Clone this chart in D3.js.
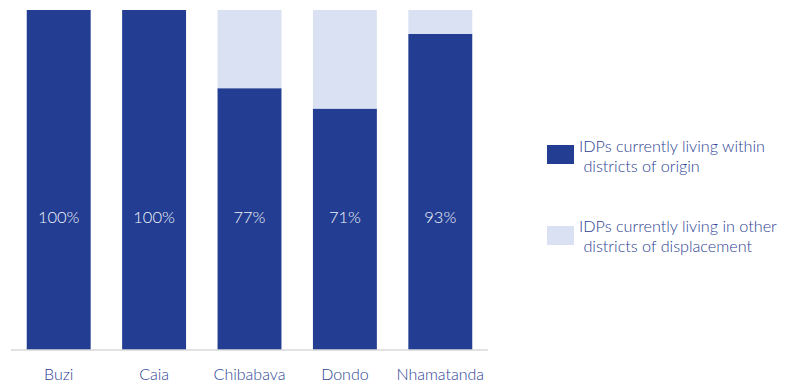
<!DOCTYPE html>
<html>
<head>
<meta charset="utf-8">
<script src="https://cdn.jsdelivr.net/npm/d3@7"></script>
<style>
  html, body { margin: 0; padding: 0; background: #fff; }
  svg text { font-family: "Gill Sans", "Gill Sans MT", Lato, "Open Sans", sans-serif; font-weight: 300; }
</style>
</head>
<body>
<svg id="chart" width="796" height="385"></svg>
<script>
// Districts and share of IDPs living within their district of origin (%)
const districts = ["Buzi", "Caia", "Chibabava", "Dondo", "Nhamatanda"];
const withinOrigin = [100, 100, 77, 71, 93];
const otherDistricts = [0, 0, 23, 29, 7];
const seriesNames = ["IDPs currently living within\n districts of origin",
                     "IDPs currently living in other\n districts of displacement"];
const colors = ["#223d92", "#d9e1f2"];
const textColor = "#2c3f94";

const svg = d3.select("#chart");
const plot = { left: 11, right: 488, top: 10, bottom: 350 };

const x = d3.scaleBand()
  .domain(districts)
  .range([plot.left, plot.right])
  .paddingInner(0.33)
  .paddingOuter(0.165);

const y = d3.scaleLinear()
  .domain([0, 100])
  .range([plot.bottom, plot.top]);

const rows = districts.map((d, i) => ({ district: d, within: withinOrigin[i], other: otherDistricts[i] }));
const stack = d3.stack().keys(["within", "other"])(rows);

svg.append("g")
  .selectAll("g")
  .data(stack)
  .join("g")
  .attr("fill", (d, i) => colors[i])
  .selectAll("rect")
  .data(d => d)
  .join("rect")
  .attr("x", d => x(d.data.district))
  .attr("y", d => y(d[1]))
  .attr("width", x.bandwidth())
  .attr("height", d => y(d[0]) - y(d[1]));

// baseline axis
const axis = svg.append("g")
  .attr("transform", `translate(0,${plot.bottom})`)
  .call(d3.axisBottom(x).tickSize(0).tickPadding(19));
axis.select(".domain").attr("stroke", "#d9d9d9").attr("stroke-width", 1.5)
  .attr("d", `M${plot.left},0H${plot.right}`);
axis.selectAll("text")
  .attr("fill", textColor)
  .attr("font-size", 16)
  .style("font-family", "\"Gill Sans\", Lato, sans-serif")
  .style("font-weight", 300);

// value labels inside the bars
svg.append("g")
  .selectAll("text")
  .data(rows)
  .join("text")
  .attr("x", d => x(d.district) + x.bandwidth() / 2)
  .attr("y", 223)
  .attr("text-anchor", "middle")
  .attr("fill", "#f2f4fa")
  .attr("font-size", 16.5)
  .text(d => d.within + "%");

// legend
const legend = svg.append("g");
const legendItems = [
  { color: colors[0], boxY: 145, textY: 152 },
  { color: colors[1], boxY: 226, textY: 232 }
];
legendItems.forEach((item, i) => {
  legend.append("rect")
    .attr("x", 547).attr("y", item.boxY)
    .attr("width", 27).attr("height", 19)
    .attr("fill", item.color);
  const lines = seriesNames[i].split("\n");
  lines.forEach((line, j) => {
    legend.append("text")
      .attr("x", 579)
      .attr("y", item.textY + j * 20)
      .attr("fill", textColor)
      .attr("font-size", 16.2)
      .attr("xml:space", "preserve")
      .style("white-space", "pre")
      .text(line);
  });
});
</script>
</body>
</html>
